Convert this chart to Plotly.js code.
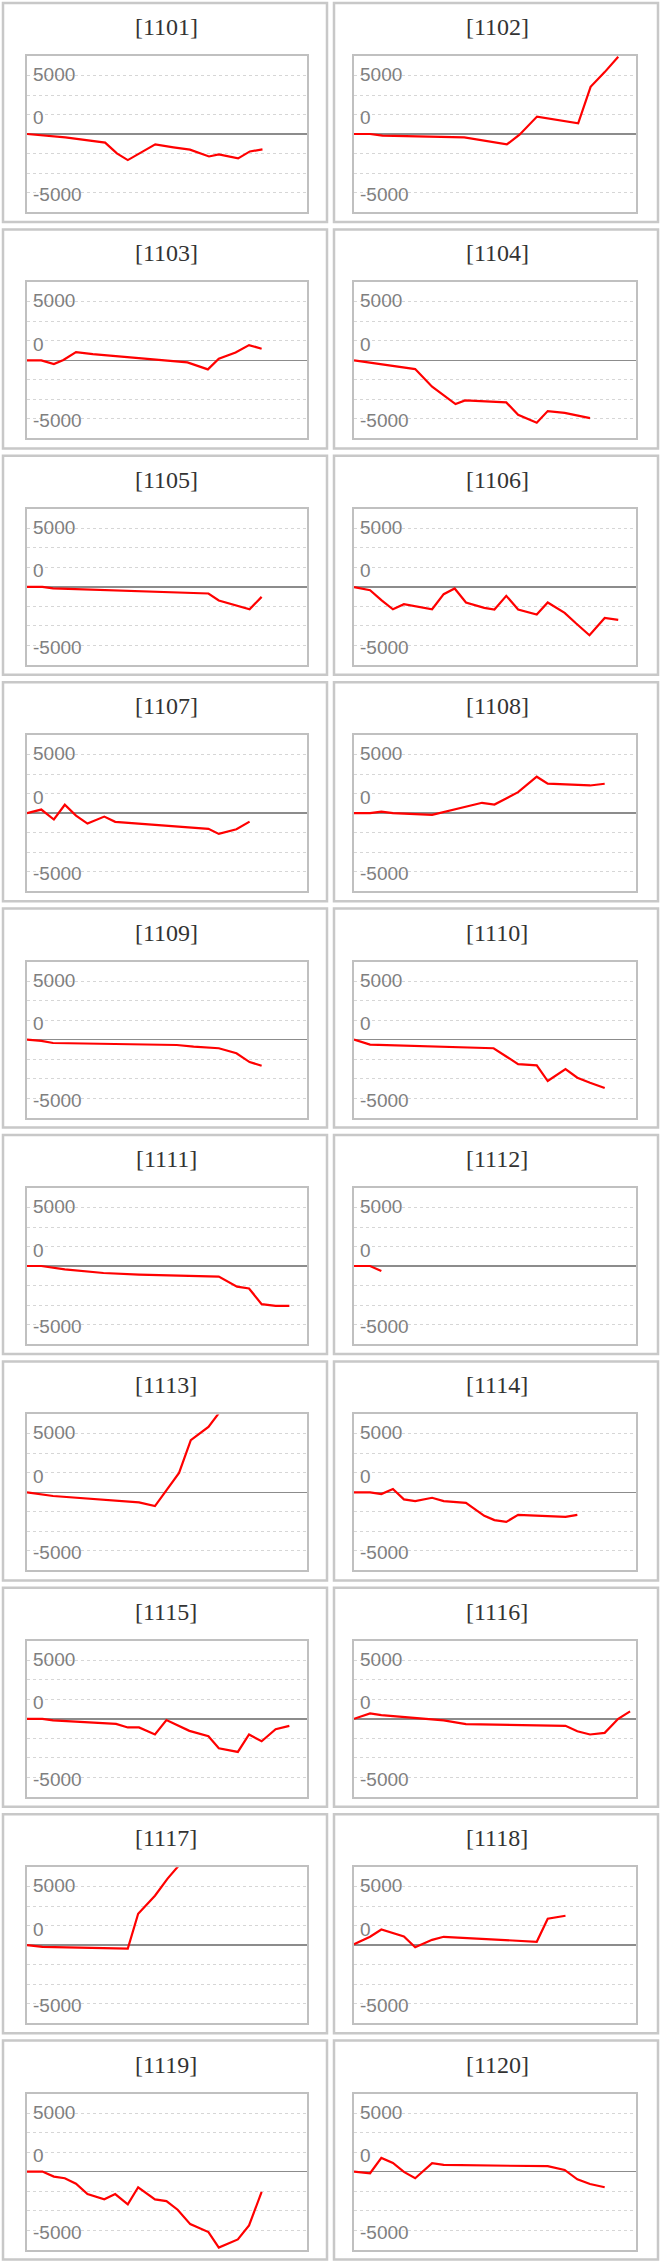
<!DOCTYPE html>
<html>
<head>
<meta charset="utf-8">
<script src="https://cdn.plot.ly/plotly-3.0.1.min.js"></script>
<style>
  html, body { margin: 0; padding: 0; background: #fff; }
</style>
</head>
<body>
<div id="grid"></div>
<script>
var codes = ['1101', '1102', '1103', '1104', '1105', '1106', '1107', '1108', '1109', '1110',
  '1111', '1112', '1113', '1114', '1115', '1116', '1117', '1118', '1119', '1120'];

var xData = [
  [0, 13.7, 27.9, 32.1, 36.0, 41.0, 45.8, 52.3, 58.2, 65.0, 68.5, 75.4, 79.6, 84.1],
  [0, 5.7, 10.1, 39.1, 54.2, 58.7, 64.9, 79.5, 83.9, 88.9, 93.7],
  [0, 5.1, 9.6, 13.0, 17.5, 23.5, 57.3, 64.6, 68.5, 74.5, 79.3, 83.8],
  [0, 21.7, 27.7, 36.0, 39.4, 54.0, 58.2, 64.8, 68.7, 74.7, 83.7],
  [0, 5.5, 9.3, 64.8, 68.5, 79.5, 83.8],
  [0, 5.7, 9.7, 13.8, 17.7, 21.7, 27.7, 31.8, 35.7, 39.7, 46.2, 49.8, 54.0, 58.2, 64.8, 68.7, 74.7, 78.7, 83.5, 88.9, 93.7],
  [0, 5.1, 9.6, 13.5, 17.5, 21.6, 27.6, 31.5, 64.8, 68.5, 74.8, 79.5],
  [0, 5.7, 9.7, 13.8, 27.7, 45.4, 49.8, 58.2, 64.8, 68.7, 83.7, 88.9],
  [0, 5.1, 9.3, 53.5, 59.5, 68.5, 74.8, 79.5, 83.8],
  [0, 5.7, 49.5, 58.2, 64.8, 68.7, 75.0, 79.2, 83.7, 88.9],
  [0, 5.1, 13.5, 27.3, 40.0, 55.0, 68.5, 75.0, 79.3, 83.8, 88.8, 93.7],
  [0, 5.7, 9.7],
  [0, 9.3, 40.0, 45.7, 54.3, 58.5, 64.8, 68.6],
  [0, 5.7, 9.7, 13.8, 17.7, 21.7, 27.7, 31.8, 39.7, 46.2, 49.8, 54.0, 58.2, 75.0, 79.2],
  [0, 5.5, 9.3, 31.8, 36.0, 40.0, 45.7, 49.8, 58.0, 64.8, 68.5, 75.3, 79.3, 83.8, 88.8, 93.7],
  [0, 5.7, 9.7, 31.8, 39.7, 75.0, 79.2, 83.7, 88.9, 93.7, 97.9],
  [0, 5.5, 36.0, 39.7, 45.7, 50.2, 54.0],
  [0, 5.7, 9.7, 17.7, 21.7, 27.7, 31.8, 49.8, 64.8, 68.7, 75.0],
  [0, 5.5, 9.6, 13.5, 17.5, 21.6, 27.6, 31.5, 36.0, 39.7, 45.7, 49.8, 53.8, 58.3, 64.8, 68.5, 75.3, 79.3, 83.8],
  [0, 5.7, 9.7, 13.8, 17.7, 21.7, 27.7, 31.8, 68.7, 74.7, 79.2, 83.7, 88.9]
];

var yData = [
  [0, -290, -740, -1660, -2230, -1570, -890, -1140, -1340, -1920, -1750, -2090, -1490, -1320],
  [0, 0, -140, -290, -890, -60, 1490, 920, 4030, 5290, 6600],
  [0, 0, -310, 30, 710, 540, -170, -770, 140, 680, 1310, 1000],
  [0, -740, -2250, -3730, -3420, -3590, -4650, -5330, -4330, -4480, -4930],
  [0, 0, -140, -570, -1170, -1920, -860],
  [-30, -290, -1140, -1920, -1490, -1660, -1920, -630, -140, -1340, -1800, -1940, -770, -1940, -2370, -1340, -2230, -3120, -4140, -2660, -2830],
  [0, 310, -540, 720, -200, -890, -290, -740, -1340, -1770, -1370, -720],
  [0, 0, 140, 0, -140, 890, 740, 1800, 3120, 2520, 2370, 2520],
  [0, -110, -290, -460, -600, -740, -1170, -1920, -2230],
  [0, -430, -740, -2090, -2200, -3540, -2520, -3260, -3690, -4140],
  [0, 0, -290, -600, -740, -860, -910, -1770, -1920, -3260, -3400, -3400],
  [0, 0, -430],
  [0, -310, -860, -1170, 1660, 4460, 5600, 6800],
  [0, 0, -140, 290, -600, -740, -460, -740, -890, -2000, -2370, -2520, -1920, -2090, -1920],
  [0, 0, -140, -430, -740, -740, -1340, -110, -1030, -1490, -2520, -2830, -1340, -1920, -890, -600],
  [0, 460, 310, -140, -460, -600, -1060, -1340, -1200, 0, 630],
  [0, -140, -290, 2690, 4230, 5690, 6750],
  [90, 720, 1340, 740, -170, 460, 720, 460, 290, 2260, 2520],
  [0, 0, -430, -570, -1030, -1920, -2370, -1920, -2800, -1340, -2370, -2520, -3260, -4490, -5170, -6490, -5800, -4600, -1740],
  [0, -140, 1170, 740, -30, -570, 720, 570, 460, 140, -660, -1060, -1340]
];

var tickVals = [5000, 0, -5000];
var tickText = ['5000', '0', '-5000'];

var W = 662, H = 2264;
var rowH = H / 10, colW = 331;
// plot area edges per column, in page pixels
var plotLeft = [27, 354], plotRight = [307, 636];
var labelShift = [1, 16, -2];

function px(v) { return v / W; }
function py(v) { return 1 - v / H; }

var data = [];
var layout = {
  width: W,
  height: H,
  margin: {l: 0, r: 0, t: 0, b: 0},
  paper_bgcolor: '#fff',
  plot_bgcolor: '#fff',
  showlegend: false,
  shapes: [],
  annotations: []
};

for ( var i = 0 ; i < codes.length ; i++ ) {
  var r = Math.floor(i / 2), c = i % 2;
  var x0 = c * colW, y0 = r * rowH;
  var n = i === 0 ? '' : String(i + 1);

  data.push({
    x: xData[i],
    y: yData[i],
    xaxis: 'x' + n,
    yaxis: 'y' + n,
    type: 'scatter',
    mode: 'lines',
    line: {color: '#ff0000', width: 2.2},
    hoverinfo: 'skip'
  });

  layout['xaxis' + n] = {
    domain: [px(plotLeft[c]), px(plotRight[c])],
    anchor: 'y' + n,
    range: [0, 100],
    showgrid: false,
    zeroline: false,
    showticklabels: false,
    ticks: '',
    showline: true,
    mirror: true,
    linecolor: '#c0c0c0',
    linewidth: 2,
    fixedrange: true
  };
  layout['yaxis' + n] = {
    domain: [py(y0 + 212), py(y0 + 56)],
    anchor: 'x' + n,
    range: [-6667, 6667],
    tick0: 0,
    dtick: 10000 / 6,
    showgrid: true,
    gridcolor: '#d6d6d6',
    griddash: 'dot',
    gridwidth: 1,
    zeroline: true,
    zerolinecolor: '#8c8c8c',
    zerolinewidth: 1.5,
    showticklabels: false,
    ticks: '',
    showline: true,
    mirror: true,
    linecolor: '#c0c0c0',
    linewidth: 2,
    fixedrange: true
  };

  // panel frame
  layout.shapes.push({
    type: 'rect',
    xref: 'paper',
    yref: 'paper',
    x0: px(x0 + 3),
    x1: px(x0 + 327),
    y0: py(y0 + 222),
    y1: py(y0 + 3),
    line: {color: '#c8c8c8', width: 2.5},
    layer: 'below'
  });

  layout.annotations.push({
    xref: 'paper',
    yref: 'paper',
    x: px(x0 + 166),
    y: py(y0 + 27),
    xanchor: 'center',
    yanchor: 'middle',
    text: '[' + codes[i] + ']',
    showarrow: false,
    font: {family: 'Liberation Serif', size: 24, color: '#333333'}
  });

  for ( var k = 0 ; k < tickVals.length ; k++ ) {
    layout.annotations.push({
      xref: 'x' + n + ' domain',
      yref: 'y' + n,
      x: 0,
      y: tickVals[k],
      xanchor: 'left',
      yanchor: 'middle',
      xshift: 4,
      yshift: labelShift[k],
      text: tickText[k],
      showarrow: false,
      font: {family: 'Liberation Sans', size: 19, color: '#7f7f7f'}
    });
  }
}

Plotly.newPlot('grid', data, layout, {displayModeBar: false, staticPlot: true});
</script>
</body>
</html>
